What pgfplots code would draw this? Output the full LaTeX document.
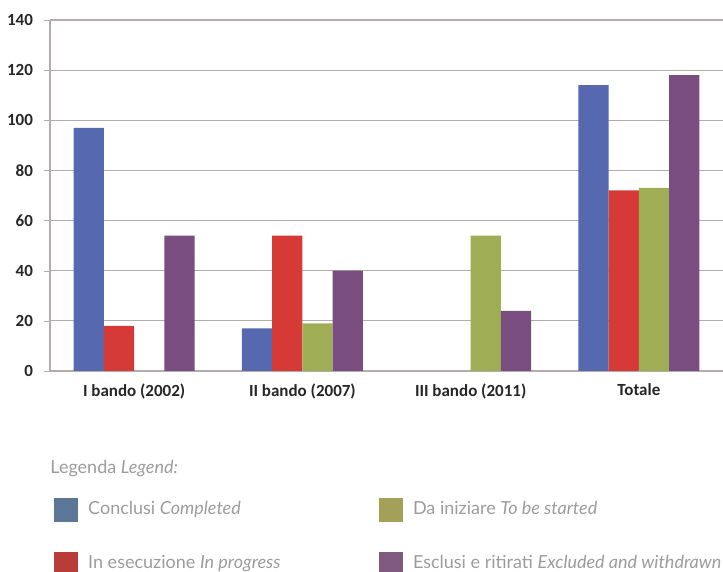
\documentclass[border=0pt]{standalone}
\usepackage{pgfplots}
\pgfplotsset{compat=1.18}
\usepackage{fontspec}
\setmainfont{Carlito}
\newfontfamily\legfont{Lato}

\definecolor{cBlue}{HTML}{5568B0}
\definecolor{cRed}{HTML}{D63A36}
\definecolor{cGreen}{HTML}{9FAE55}
\definecolor{cPurple}{HTML}{7A4D80}
\definecolor{lBlue}{HTML}{5A7798}
\definecolor{lRed}{HTML}{B83C38}
\definecolor{lGreen}{HTML}{A3A058}
\definecolor{lPurple}{HTML}{7F5A7E}
\definecolor{gridc}{HTML}{B4ABAB}
\definecolor{legtext}{HTML}{9C9C9C}

\begin{document}
\begin{tikzpicture}
\begin{axis}[
    scale only axis,
    width=336.5pt, height=175.5pt,
    ybar=0pt, bar width=0.18,
    xmin=-0.5, xmax=3.5,
    ymin=0, ymax=140,
    ytick={0,20,...,140},
    xtick={0,1,2,3},
    xticklabels={I bando (2002), II bando (2007), III bando (2011), Totale},
    extra x ticks={0.5,1.5,2.5},
    extra x tick labels={},
    extra x tick style={major tick length=3pt, tick style={gridc}, grid=none},
    major x tick style={draw=none},
    axis x line*=bottom, axis y line*=left,
    axis line style={gridc, line width=0.6pt},
    ymajorgrids, grid style={gridc, line width=0.6pt},
    y tick style={gridc}, major tick length=3pt,
    tick align=outside,
    ticklabel style={font=\fontsize{8.5}{9}\selectfont\bfseries, text=black!85},
    yticklabel style={xshift=-2pt},
    /pgf/number format/assume math mode=true,
    legend style={at={(axis cs:-0.5,0)}, anchor=north west,
        yshift=-61pt, xshift=-1pt,
        draw=none, fill=none, font=\legfont\fontsize{9}{10}\selectfont,
        text=legtext,
        nodes={inner xsep=5pt},
        row sep=15pt},
    legend columns=2, transpose legend,
    legend cell align=left,
    legend image code/.code={\fill[#1] (0pt,-5.75pt) rectangle (11.5pt,5.75pt);},
]
\addplot[fill=cBlue, draw=none, bar shift=-0.27, forget plot] coordinates {(0,97) (1,17) (3,114)};
\addplot[fill=cRed, draw=none, bar shift=-0.09, forget plot] coordinates {(0,18) (1,54) (3,72)};
\addplot[fill=cGreen, draw=none, bar shift=0.09, forget plot] coordinates {(1,19) (2,54) (3,73)};
\addplot[fill=cPurple, draw=none, bar shift=0.27, forget plot] coordinates {(0,54) (1,40) (2,24) (3,118)};
\addlegendimage{lBlue}
\addlegendentry{\makebox[140.5pt][l]{Conclusi \textit{Completed}}}
\addlegendimage{lRed}
\addlegendentry{\makebox[140.5pt][l]{In esecuzione \textit{In progress}}}
\addlegendimage{lGreen}
\addlegendentry{Da iniziare \textit{To be started}}
\addlegendimage{lPurple}
\addlegendentry{Esclusi e ritirati \textit{Excluded and withdrawn}}
\coordinate (org) at (axis cs:-0.5,0);
\coordinate (tr) at (axis cs:3.5,140);
\end{axis}
\node[anchor=west, font=\legfont\fontsize{9}{10}\selectfont, text=legtext,
      inner sep=0pt] at ([yshift=-49pt]org) {Legenda \textit{Legend:}};
\pgfresetboundingbox
\path[use as bounding box] ([xshift=-25pt,yshift=-100.5pt]org) rectangle ([yshift=10pt]tr);
\end{tikzpicture}
\end{document}
